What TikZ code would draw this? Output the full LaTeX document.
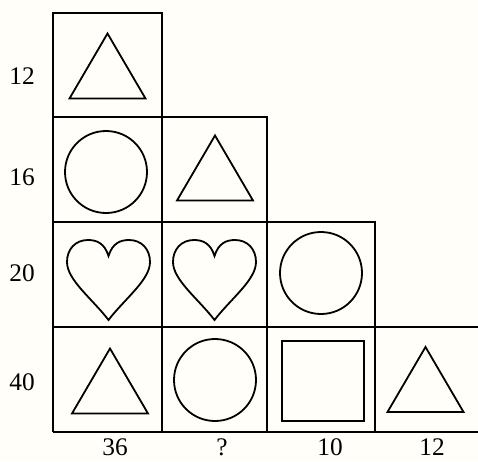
\documentclass[tikz,border=0pt]{standalone}
\usepackage{fontspec}
\setmainfont{Liberation Serif}
\usepackage{tikz}
\definecolor{paper}{HTML}{FFFEF8}

\begin{document}
\begin{tikzpicture}[x=0.75pt,y=-0.75pt,
  gridline/.style={line width=1.7pt,line join=miter},
  sym/.style={line width=1.35pt,line join=miter},
  lab/.style={font=\fontsize{19}{21}\selectfont,inner sep=0pt},
  tri/.pic={\draw[sym] (0,-32) -- (38,33) -- (-38,33) -- cycle;},
  ring/.pic={\draw[sym] (0,0) circle[radius=41];},
  sq/.pic={\draw[sym] (-41,-40) rectangle (41,40);},
  heart/.pic={\draw[sym] (0,-21) .. controls (4,-34) and (12,-37) .. (20.5,-37)
      .. controls (33,-37) and (41.5,-28) .. (41.5,-15)
      .. controls (41.5,3) and (16,22) .. (0,43)
      .. controls (-16,22) and (-41.5,3) .. (-41.5,-15)
      .. controls (-41.5,-28) and (-33,-37) .. (-20.5,-37)
      .. controls (-12,-37) and (-4,-34) .. (0,-21) -- cycle;}]
\fill[paper] (0,0) rectangle (478,461);
\useasboundingbox (0,0) rectangle (478,461);
% staircase of cells
\draw[gridline] (53,432) -- (53,13) -- (162,13) -- (162,117) -- (267,117) -- (267,222)
  -- (375,222) -- (375,327) -- (478,327);
\draw[gridline] (53,432) -- (478,432);
\draw[gridline] (53,117) -- (162,117) (53,222) -- (267,222) (53,327) -- (375,327);
\draw[gridline] (162,117) -- (162,432) (267,222) -- (267,432) (375,327) -- (375,432);
% figures
\pic at (107.5,65.5) {tri};
\pic at (106,172) {ring};
\pic at (215,167.5) {tri};
\pic at (108.5,277) {heart};
\pic at (214.5,277) {heart};
\pic at (321,273) {ring};
\pic at (110,380.5) {tri};
\pic at (215,380) {ring};
\pic at (323,381) {sq};
\pic at (425.5,379) {tri};
% row sums
\node[lab] (r1) at (22,76) {12};
\node[lab] (r2) at (22,177) {16};
\node[lab] (r3) at (22,273) {20};
\node[lab] (r4) at (22,382) {40};
% column sums
\node[lab] (c1) at (115,447) {36};
\node[lab] (c2) at (222,447) {?};
\node[lab] (c3) at (330,447) {10};
\node[lab] (c4) at (432,447) {12};
\end{tikzpicture}
\end{document}
